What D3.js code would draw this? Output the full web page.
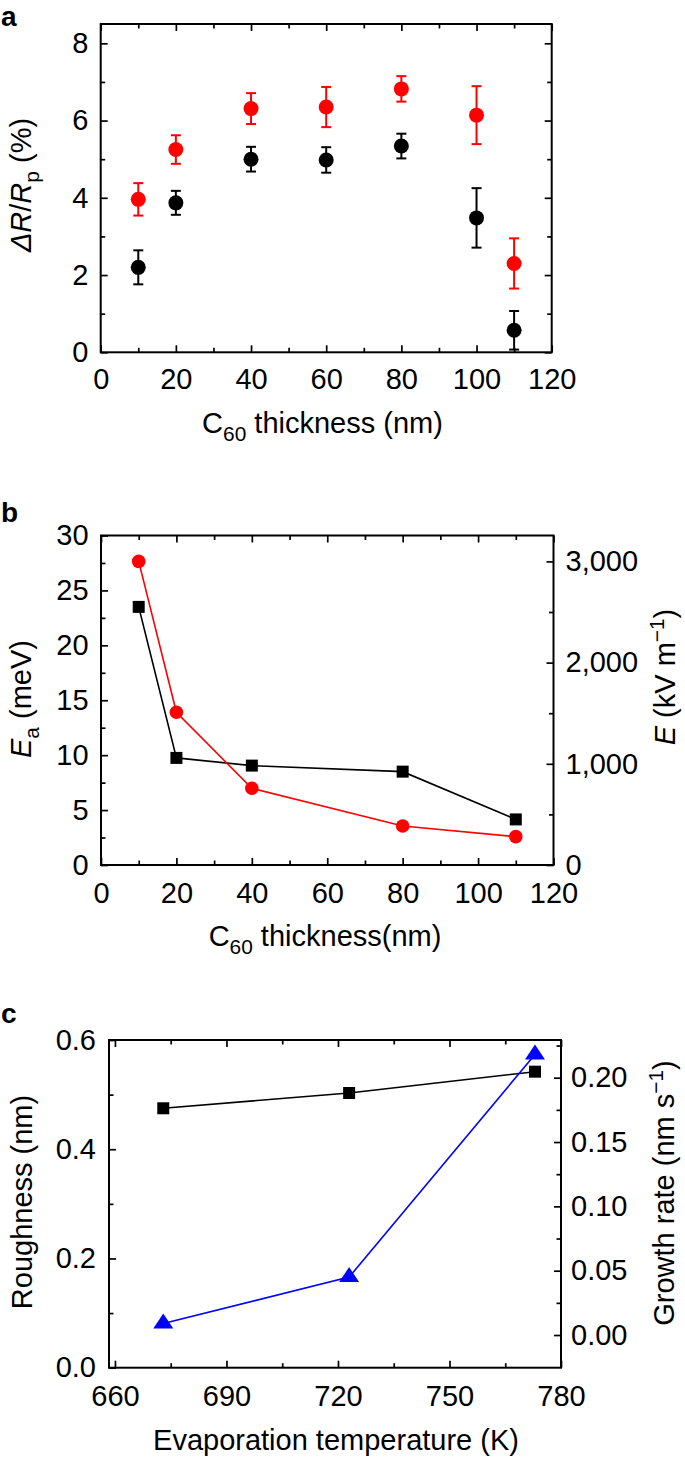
<!DOCTYPE html>
<html><head><meta charset="utf-8">
<script src="https://cdn.jsdelivr.net/npm/d3@7"></script>
<style>
html,body{margin:0;padding:0;background:#fff;}
svg{display:block;}
</style></head><body>
<svg id="chart" width="685" height="1458"></svg>
<script>
// ---------- Data ----------
// Panel a
const thicknessA = [10, 20, 40, 60, 80, 100, 110];
const ratioRed = [3.96, 5.25, 6.31, 6.35, 6.82, 6.14, 2.30];
const ratioRedErr = [0.42, 0.37, 0.40, 0.52, 0.33, 0.75, 0.65];
const ratioBlack = [2.20, 3.87, 5.00, 4.98, 5.34, 3.48, 0.57];
const ratioBlackErr = [0.44, 0.31, 0.32, 0.33, 0.32, 0.77, 0.50];
const xTicksA = [0, 20, 40, 60, 80, 100, 120];
const yTicksA = [0, 2, 4, 6, 8];
// Panel b
const thicknessB = [10, 20, 40, 80, 110];
const activationEnergy = [23.5, 9.75, 9.05, 8.5, 4.15];
const electricField = [3000, 1509, 758, 385, 280];
const yTicksBLeft = [0, 5, 10, 15, 20, 25, 30];
const yTicksBRight = [0, 1000, 2000, 3000];
// Panel c
const evapTemp = [673, 723, 773];
const roughness = [0.475, 0.503, 0.542];
const growthRate = [0.009, 0.045, 0.218];
const xTicksC = [660, 690, 720, 750, 780];
const yTicksCLeft = [0.0, 0.2, 0.4, 0.6];
const yTicksCRight = [0.00, 0.05, 0.10, 0.15, 0.20];

// ---------- Setup ----------
const FONT = "'Liberation Sans', Arial, Helvetica, sans-serif";
const FS = 29;
const RED = "#ff0000", BLUE = "#0000ff";
const svg = d3.select("#chart");
const root = svg.append("g").attr("font-family", FONT);

// wide triangle marker (width:height = 4:3), centred on its centroid
const wideTriangle = {
  draw(ctx, size) {
    const h = Math.sqrt(1.5 * size), w = h * 4 / 3;
    ctx.moveTo(0, -2 * h / 3);
    ctx.lineTo(w / 2, h / 3);
    ctx.lineTo(-w / 2, h / 3);
    ctx.closePath();
  }
};

function styleAxis(g) {
  g.select(".domain").remove();
  g.attr("font-size", FS).attr("font-family", FONT);
  g.selectAll("line").attr("stroke-width", 1.7);
  g.selectAll("text").attr("fill", "#000");
}
function addAxis(g, axisFn, scale, vals, minor, tr, pad, fmt) {
  g.append("g").attr("transform", tr)
    .call(axisFn(scale).tickValues(vals).tickSize(-7).tickPadding(pad)
      .tickFormat(fmt ? fmt : ""))
    .call(styleAxis);
  if (minor && minor.length)
    g.append("g").attr("transform", tr)
      .call(axisFn(scale).tickValues(minor).tickSize(-4.5).tickFormat(""))
      .call(styleAxis);
}
function box(g, x0, x1, y0, y1) {
  g.append("rect").attr("x", x0).attr("y", y0)
    .attr("width", x1 - x0).attr("height", y1 - y0)
    .attr("fill", "none").attr("stroke", "#000").attr("stroke-width", 2);
}
function richText(sel, segs, size) {
  let shift = 0;
  segs.forEach(s => {
    const target = s.sub ? size * 0.28 : s.sup ? -size * 0.38 : 0;
    const ts = sel.append("tspan").text(s.t).attr("dy", target - shift);
    shift = target;
    if (s.sub || s.sup) ts.attr("font-size", size * 0.72);
    if (s.italic) ts.attr("font-style", "italic");
  });
}
function yTitle(g, x, y, segs) {
  const t = g.append("text").attr("transform", `translate(${x},${y}) rotate(-90)`)
    .attr("text-anchor", "middle").attr("font-size", FS).attr("fill", "#000");
  richText(t, segs, FS);
}
function xTitle(g, x, y, segs) {
  const t = g.append("text").attr("x", x).attr("y", y)
    .attr("text-anchor", "middle").attr("font-size", FS).attr("fill", "#000");
  richText(t, segs, FS);
}
function panelLetter(g, y, s) {
  g.append("text").attr("x", 1).attr("y", y).text(s)
    .attr("font-size", 28).attr("font-weight", "bold").attr("fill", "#000");
}
const range = (a, b, s) => d3.range(a, b + s / 2, s);

// ---------- Panel a ----------
{
  const g = root.append("g");
  const L = 100.7, R = 551.7, T = 24, B = 352.3;
  const x = d3.scaleLinear([0, 120], [L, R]);
  const y = d3.scaleLinear([0, 8.5], [B, T]);
  box(g, L, R, T, B);
  const xMinor = range(10, 110, 20);
  const yMinor = [1, 3, 5, 7];
  addAxis(g, d3.axisBottom, x, xTicksA, xMinor, `translate(0,${B})`, 16.5, d3.format("d"));
  addAxis(g, d3.axisTop, x, xTicksA, xMinor, `translate(0,${T})`, 0, null);
  addAxis(g, d3.axisLeft, y, yTicksA, yMinor, `translate(${L},0)`, 12.4, d3.format("d"));
  addAxis(g, d3.axisRight, y, yTicksA, yMinor, `translate(${R},0)`, 0, null);

  const series = [
    { v: ratioBlack, e: ratioBlackErr, c: "#000" },
    { v: ratioRed, e: ratioRedErr, c: RED }
  ];
  series.forEach(s => {
    const d = thicknessA.map((t, i) => ({ t, v: s.v[i], e: s.e[i] }));
    const eb = g.append("g").attr("stroke", s.c).attr("stroke-width", 2);
    eb.selectAll(".v").data(d).join("line")
      .attr("x1", p => x(p.t)).attr("x2", p => x(p.t))
      .attr("y1", p => y(p.v - p.e)).attr("y2", p => y(p.v + p.e));
    ["lo", "hi"].forEach(k => {
      eb.selectAll("." + k).data(d).join("line")
        .attr("x1", p => x(p.t) - 5).attr("x2", p => x(p.t) + 5)
        .attr("y1", p => y(k === "lo" ? p.v - p.e : p.v + p.e))
        .attr("y2", p => y(k === "lo" ? p.v - p.e : p.v + p.e));
    });
    g.append("g").selectAll("circle").data(d).join("circle")
      .attr("cx", p => x(p.t)).attr("cy", p => y(p.v)).attr("r", 7.5).attr("fill", s.c);
  });

  yTitle(g, 31, 185, [{ t: "ΔR", italic: true }, { t: "/" }, { t: "R", italic: true }, { t: "p", sub: true }, { t: " (%)" }]);
  xTitle(g, 322.5, 433, [{ t: "C" }, { t: "60", sub: true }, { t: " thickness (nm)" }]);
  panelLetter(g, 26, "a");
}

// ---------- Panel b ----------
{
  const g = root.append("g");
  const L = 101, R = 553.5, T = 535.5, B = 865;
  const x = d3.scaleLinear([0, 120], [L, R]);
  const yL = d3.scaleLinear([0, 30], [B, T]);
  const yR = d3.scaleLinear([0, 3256], [B, T]);
  box(g, L, R, T, B);
  const xMinor = range(10, 110, 20);
  addAxis(g, d3.axisBottom, x, xTicksA, xMinor, `translate(0,${B})`, 17.5, d3.format("d"));
  addAxis(g, d3.axisTop, x, xTicksA, xMinor, `translate(0,${T})`, 0, null);
  addAxis(g, d3.axisLeft, yL, yTicksBLeft, range(2.5, 27.5, 5), `translate(${L},0)`, 12.4, d3.format("d"));
  addAxis(g, d3.axisRight, yR, yTicksBRight, [500, 1500, 2500], `translate(${R},0)`, 12, d3.format(","));

  const dB = thicknessB.map((t, i) => ({ t, ea: activationEnergy[i], e: electricField[i] }));
  g.append("path").datum(dB).attr("fill", "none").attr("stroke", "#000").attr("stroke-width", 1.6)
    .attr("d", d3.line().x(p => x(p.t)).y(p => yL(p.ea)));
  g.append("path").datum(dB).attr("fill", "none").attr("stroke", RED).attr("stroke-width", 1.6)
    .attr("d", d3.line().x(p => x(p.t)).y(p => yR(p.e)));
  g.append("g").selectAll("path").data(dB).join("path")
    .attr("transform", p => `translate(${x(p.t)},${yL(p.ea)})`)
    .attr("d", d3.symbol(d3.symbolSquare, 12 * 12)).attr("fill", "#000");
  g.append("g").selectAll("circle").data(dB).join("circle")
    .attr("cx", p => x(p.t)).attr("cy", p => yR(p.e)).attr("r", 6.8).attr("fill", RED);

  yTitle(g, 31, 699, [{ t: "E", italic: true }, { t: "a", sub: true }, { t: " (meV)" }]);
  yTitle(g, 675, 677, [{ t: "E", italic: true }, { t: " (kV m" }, { t: "−1", sup: true }, { t: ")" }]);
  xTitle(g, 325, 946, [{ t: "C" }, { t: "60", sub: true }, { t: " thickness(nm)" }]);
  panelLetter(g, 521.5, "b");
}

// ---------- Panel c ----------
{
  const g = root.append("g");
  const L = 109, R = 561, T = 1040, B = 1367.7;
  const x = d3.scaleLinear([658.4, 780], [L, R]);
  const yL = d3.scaleLinear([0, 0.6], [B, T]);
  const yR = d3.scaleLinear([-0.0254, 0.2293], [B, T]);
  box(g, L, R, T, B);
  const xMinor = [675, 705, 735, 765];
  addAxis(g, d3.axisBottom, x, xTicksC, xMinor, `translate(0,${B})`, 17.5, d3.format("d"));
  addAxis(g, d3.axisTop, x, xTicksC, xMinor, `translate(0,${T})`, 0, null);
  addAxis(g, d3.axisLeft, yL, yTicksCLeft, [0.1, 0.3, 0.5], `translate(${L},0)`, 13, d3.format(".1f"));
  addAxis(g, d3.axisRight, yR, yTicksCRight, [0.025, 0.075, 0.125, 0.175, 0.225], `translate(${R},0)`, 10, d3.format(".2f"));

  const dC = evapTemp.map((t, i) => ({ t, r: roughness[i], gr: growthRate[i] }));
  g.append("path").datum(dC).attr("fill", "none").attr("stroke", "#000").attr("stroke-width", 1.6)
    .attr("d", d3.line().x(p => x(p.t)).y(p => yL(p.r)));
  g.append("path").datum(dC).attr("fill", "none").attr("stroke", BLUE).attr("stroke-width", 1.6)
    .attr("d", d3.line().x(p => x(p.t)).y(p => yR(p.gr)));
  g.append("g").selectAll("path").data(dC).join("path")
    .attr("transform", p => `translate(${x(p.t)},${yL(p.r)})`)
    .attr("d", d3.symbol(d3.symbolSquare, 12 * 12)).attr("fill", "#000");
  g.append("g").selectAll("path").data(dC).join("path")
    .attr("transform", p => `translate(${x(p.t)},${yR(p.gr)})`)
    .attr("d", d3.symbol(wideTriangle, 150)).attr("fill", BLUE);

  yTitle(g, 32, 1202, [{ t: "Roughness (nm)" }]);
  yTitle(g, 674, 1193, [{ t: "Growth rate (nm s" }, { t: "−1", sup: true }, { t: ")" }]);
  xTitle(g, 336, 1450, [{ t: "Evaporation temperature (K)" }]);
  panelLetter(g, 1023, "c");
}
</script>
</body></html>
